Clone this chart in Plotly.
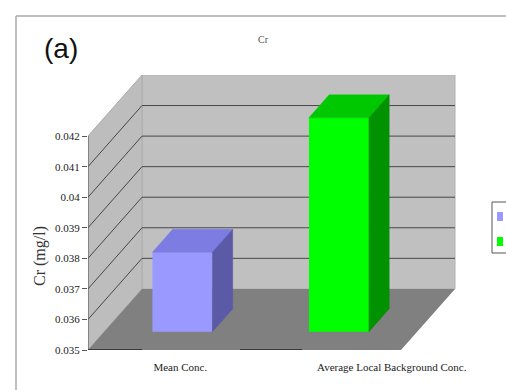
import plotly.graph_objects as go

# ---- data -------------------------------------------------------------
categories = ["Mean Conc.", "Average Local Background Conc."]
values = [0.0376, 0.0420]
front_colors = ["#9999FF", "#00FF00"]
top_colors = ["#7C7CE2", "#00C800"]
side_colors = ["#5A5AA6", "#009200"]
y_ticks = [0.035, 0.036, 0.037, 0.038, 0.039, 0.040, 0.041, 0.042]
y_tick_labels = ["0.035", "0.036", "0.037", "0.038", "0.039", "0.04", "0.041", "0.042"]

# ---- pseudo-3D geometry (x in px-like units, y in mg/l) ---------------
W, H = 506, 390
M_L, M_R, M_T, M_B = 88, 46, 75, 40
X_RANGE = [0, W - M_L - M_R]
Y_MIN, Y_MAX_FRONT = y_ticks[0], y_ticks[-1]
DEPTH_X = 54            # horizontal shift of the back wall
DEPTH_Y = 0.002         # vertical shift of the back wall (value units)
FLOOR_W = 313           # width of the floor / back wall
Y_RANGE = [Y_MIN, Y_MAX_FRONT + DEPTH_Y]
BAR_D0, BAR_D1 = 0.30, 0.675   # depth span of the bars (fraction)
BAR_W = 60
LABEL_SHIFT = [14, 69]         # category label offset from slot centre

n = len(categories)
slot = FLOOR_W / n
centers = [(i + 0.5) * slot + BAR_D0 * DEPTH_X for i in range(n)]
bar_base = Y_MIN + BAR_D0 * DEPTH_Y
ddx = (BAR_D1 - BAR_D0) * DEPTH_X
ddy = (BAR_D1 - BAR_D0) * DEPTH_Y

plot_w = X_RANGE[1]
plot_h = H - M_T - M_B


def px(X):
    return (X - M_L) / plot_w


def py(Y):
    return (H - M_B - Y) / plot_h


fig = go.Figure()

# front faces of the columns
fig.add_trace(go.Bar(
    x=centers,
    y=[v - Y_MIN for v in values],
    base=[bar_base] * n,
    width=BAR_W,
    marker=dict(color=front_colors, line=dict(width=0)),
    showlegend=False,
    hoverinfo="skip",
))

# top and side faces of the columns
for i, v in enumerate(values):
    xl, xr = centers[i] - BAR_W / 2, centers[i] + BAR_W / 2
    vt = v + BAR_D0 * DEPTH_Y
    fig.add_trace(go.Scatter(
        x=[xl, xr, xr + ddx, xl + ddx, xl],
        y=[vt, vt, vt + ddy, vt + ddy, vt],
        mode="lines", fill="toself", fillcolor=top_colors[i],
        line=dict(color=top_colors[i], width=0.5),
        showlegend=False, hoverinfo="skip",
    ))
    fig.add_trace(go.Scatter(
        x=[xr, xr, xr + ddx, xr + ddx, xr],
        y=[bar_base, vt, vt + ddy, bar_base + ddy, bar_base],
        mode="lines", fill="toself", fillcolor=side_colors[i],
        line=dict(color=side_colors[i], width=0.5),
        showlegend=False, hoverinfo="skip",
    ))

shapes = []
# back wall
shapes.append(dict(type="rect", xref="x", yref="y", layer="below",
                   x0=DEPTH_X, x1=DEPTH_X + FLOOR_W,
                   y0=Y_MIN + DEPTH_Y, y1=Y_MAX_FRONT + DEPTH_Y,
                   fillcolor="#C0C0C0", line=dict(color="#B0B0B0", width=1)))
# side wall
shapes.append(dict(type="path", xref="x", yref="y", layer="below",
                   path=f"M 0,{Y_MIN} L 0,{Y_MAX_FRONT} L {DEPTH_X},{Y_MAX_FRONT + DEPTH_Y} "
                        f"L {DEPTH_X},{Y_MIN + DEPTH_Y} Z",
                   fillcolor="#BDBDBD", line=dict(color="#ABABAB", width=1)))
# floor
shapes.append(dict(type="path", xref="x", yref="y", layer="below",
                   path=f"M 0,{Y_MIN} L {DEPTH_X},{Y_MIN + DEPTH_Y} "
                        f"L {DEPTH_X + FLOOR_W},{Y_MIN + DEPTH_Y} L {FLOOR_W},{Y_MIN} Z",
                   fillcolor="#808080", line=dict(width=0)))
# gridlines on the walls
for v in y_ticks[1:-1]:
    shapes.append(dict(type="line", xref="x", yref="y", layer="below",
                       x0=DEPTH_X, x1=DEPTH_X + FLOOR_W, y0=v + DEPTH_Y, y1=v + DEPTH_Y,
                       line=dict(color="#474747", width=1)))
    shapes.append(dict(type="line", xref="x", yref="y", layer="below",
                       x0=0, x1=DEPTH_X, y0=v, y1=v + DEPTH_Y,
                       line=dict(color="#474747", width=1)))
# front value axis line
shapes.append(dict(type="line", xref="x", yref="y",
                   x0=0, x1=0, y0=Y_MIN, y1=Y_MAX_FRONT,
                   line=dict(color="#555555", width=1)))
# category axis segments along the floor front
for a, b in [(0, 54), (152, 214)]:
    shapes.append(dict(type="line", xref="x", yref="y",
                       x0=a, x1=b, y0=Y_MIN, y1=Y_MIN,
                       line=dict(color="#3A3A3A", width=2)))

# outer chart frame
shapes.append(dict(type="line", xref="paper", yref="paper",
                   x0=px(16), x1=px(W + 2), y0=py(16), y1=py(16),
                   line=dict(color="#A8A8A8", width=1.5)))
shapes.append(dict(type="line", xref="paper", yref="paper",
                   x0=px(16), x1=px(16), y0=py(16), y1=py(H + 2),
                   line=dict(color="#A8A8A8", width=1.5)))

# legend box with colour keys
shapes.append(dict(type="rect", xref="paper", yref="paper",
                   x0=px(492), x1=px(W + 10), y0=py(253), y1=py(202),
                   fillcolor="white", line=dict(color="#555555", width=1)))
for i, yy in enumerate([212, 237]):
    shapes.append(dict(type="rect", xref="paper", yref="paper",
                       x0=px(497), x1=px(503), y0=py(yy + 9), y1=py(yy),
                       fillcolor=front_colors[i], line=dict(width=0)))

annotations = [
    dict(text="(a)", xref="paper", yref="paper", x=px(61), y=py(48),
         showarrow=False, xanchor="center", yanchor="middle",
         font=dict(family="Liberation Sans, Arial", size=28, color="#111111")),
    dict(text="Cr", xref="paper", yref="paper", x=px(263), y=py(39),
         showarrow=False, xanchor="center", yanchor="middle",
         font=dict(family="Liberation Serif", size=10, color="#555555")),
    dict(text="Cr (mg/l)", xref="paper", yref="paper", x=px(40), y=py(256),
         showarrow=False, textangle=-90, xanchor="center", yanchor="middle",
         font=dict(family="Liberation Serif", size=16, color="#333333")),
]

label_x = [(i + 0.5) * slot + LABEL_SHIFT[i] for i in range(n)]

fig.update_layout(
    width=W, height=H, autosize=False,
    margin=dict(l=M_L, r=M_R, t=M_T, b=M_B, pad=0),
    paper_bgcolor="white", plot_bgcolor="white",
    showlegend=False,
    shapes=shapes, annotations=annotations,
    xaxis=dict(range=X_RANGE, showgrid=False, zeroline=False, showline=False,
               tickvals=label_x, ticktext=categories, ticks="",
               ticklabelstandoff=9,
               tickfont=dict(family="Liberation Serif", size=11, color="#222222"),
               fixedrange=True),
    yaxis=dict(range=Y_RANGE, showgrid=False, zeroline=False, showline=False,
               tickvals=y_ticks, ticktext=y_tick_labels,
               ticks="outside", ticklen=5, tickcolor="#555555",
               tickfont=dict(family="Liberation Serif", size=11, color="#222222"),
               fixedrange=True),
)

fig.write_html("out.html")
